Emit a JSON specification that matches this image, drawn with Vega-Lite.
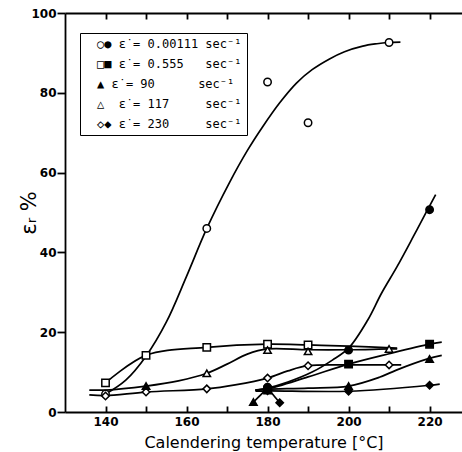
{
  "$schema": "https://vega.github.io/schema/vega-lite/v6.json",
  "width": 397,
  "height": 399,
  "autosize": {"type": "none"},
  "padding": {"left": 65, "top": 13, "right": 0, "bottom": 40},
  "background": "white",
  "config": {
    "view": {"stroke": null},
    "font": "DejaVu Sans",
    "axis": {"domainColor": "black", "tickColor": "black", "labelColor": "black", "titleColor": "black", "domainWidth": 1.8, "tickWidth": 1.8, "grid": false, "labelFont": "DejaVu Sans", "labelFontWeight": "bold", "labelFontSize": 12, "titleFont": "DejaVu Sans", "titleFontWeight": "normal"}
  },
  "datasets": {
    "curves": [
      {"c": "o1", "x": 140, "y": 4.5}, {"c": "o1", "x": 145, "y": 8}, {"c": "o1", "x": 150, "y": 14}, {"c": "o1", "x": 155, "y": 22.5}, {"c": "o1", "x": 160, "y": 34}, {"c": "o1", "x": 165, "y": 46}, {"c": "o1", "x": 170.6, "y": 57.5}, {"c": "o1", "x": 175, "y": 65.5}, {"c": "o1", "x": 178.8, "y": 71.5}, {"c": "o1", "x": 183, "y": 77.5}, {"c": "o1", "x": 187.2, "y": 82.5}, {"c": "o1", "x": 191, "y": 85.8}, {"c": "o1", "x": 195.3, "y": 88.5}, {"c": "o1", "x": 199, "y": 90.3}, {"c": "o1", "x": 203.5, "y": 91.7}, {"c": "o1", "x": 207, "y": 92.3}, {"c": "o1", "x": 209.6, "y": 92.6}, {"c": "o1", "x": 212.8, "y": 92.7},
      {"c": "f1", "x": 177, "y": 5.5}, {"c": "f1", "x": 180, "y": 6}, {"c": "f1", "x": 185, "y": 7.5}, {"c": "f1", "x": 191, "y": 10}, {"c": "f1", "x": 196, "y": 13}, {"c": "f1", "x": 200, "y": 16}, {"c": "f1", "x": 204.7, "y": 23}, {"c": "f1", "x": 208.1, "y": 29.7}, {"c": "f1", "x": 212, "y": 36.5}, {"c": "f1", "x": 216, "y": 44}, {"c": "f1", "x": 219.5, "y": 50.7}, {"c": "f1", "x": 221.5, "y": 54.5},
      {"c": "so", "x": 140, "y": 7.3}, {"c": "so", "x": 150, "y": 14.2}, {"c": "so", "x": 165, "y": 16.2}, {"c": "so", "x": 180, "y": 17}, {"c": "so", "x": 190, "y": 16.8}, {"c": "so", "x": 200, "y": 16.5}, {"c": "so", "x": 212, "y": 16},
      {"c": "to", "x": 136, "y": 5.5}, {"c": "to", "x": 140, "y": 5.5}, {"c": "to", "x": 150, "y": 6.5}, {"c": "to", "x": 158, "y": 7.8}, {"c": "to", "x": 165, "y": 9.7}, {"c": "to", "x": 170, "y": 12}, {"c": "to", "x": 175, "y": 14.5}, {"c": "to", "x": 180, "y": 15.8}, {"c": "to", "x": 190, "y": 15.6}, {"c": "to", "x": 200, "y": 15.6}, {"c": "to", "x": 210, "y": 15.8}, {"c": "to", "x": 212, "y": 15.8},
      {"c": "sf", "x": 177, "y": 5.5}, {"c": "sf", "x": 180, "y": 5.8}, {"c": "sf", "x": 190, "y": 8.8}, {"c": "sf", "x": 200, "y": 12}, {"c": "sf", "x": 210, "y": 14.6}, {"c": "sf", "x": 220, "y": 17}, {"c": "sf", "x": 223, "y": 17.5},
      {"c": "tf", "x": 177, "y": 5.5}, {"c": "tf", "x": 180, "y": 5.7}, {"c": "tf", "x": 190, "y": 6}, {"c": "tf", "x": 200, "y": 6.5}, {"c": "tf", "x": 207.6, "y": 8.7}, {"c": "tf", "x": 211.8, "y": 10.5}, {"c": "tf", "x": 219.5, "y": 13.3}, {"c": "tf", "x": 223, "y": 14.2},
      {"c": "df", "x": 177, "y": 5.2}, {"c": "df", "x": 180, "y": 5.3}, {"c": "df", "x": 200, "y": 5.2}, {"c": "df", "x": 220, "y": 6.7}, {"c": "df", "x": 222.5, "y": 7},
      {"c": "do", "x": 136, "y": 4.3}, {"c": "do", "x": 140, "y": 4.1}, {"c": "do", "x": 150, "y": 5}, {"c": "do", "x": 165, "y": 5.8}, {"c": "do", "x": 172, "y": 6.8}, {"c": "do", "x": 180, "y": 8.5}, {"c": "do", "x": 185, "y": 10.3}, {"c": "do", "x": 190, "y": 11.6}, {"c": "do", "x": 200, "y": 11.8}, {"c": "do", "x": 210, "y": 11.8}, {"c": "do", "x": 213, "y": 11.8},
      {"c": "x1", "x": 176.5, "y": 2.5}, {"c": "x1", "x": 180, "y": 6},
      {"c": "x2", "x": 180, "y": 6}, {"c": "x2", "x": 183, "y": 2.3}
    ],
    "points": [
      {"s": "0.00111", "f": "open", "x": 140, "y": 4.5}, {"s": "0.00111", "f": "open", "x": 165, "y": 46}, {"s": "0.00111", "f": "open", "x": 180, "y": 82.7}, {"s": "0.00111", "f": "open", "x": 190, "y": 72.5}, {"s": "0.00111", "f": "open", "x": 210, "y": 92.6},
      {"s": "0.555", "f": "open", "x": 140, "y": 7.3}, {"s": "0.555", "f": "open", "x": 150, "y": 14.2}, {"s": "0.555", "f": "open", "x": 165, "y": 16.2}, {"s": "0.555", "f": "open", "x": 180, "y": 17}, {"s": "0.555", "f": "open", "x": 190, "y": 16.8},
      {"s": "117", "f": "open", "x": 165, "y": 9.7}, {"s": "117", "f": "open", "x": 180, "y": 15.5}, {"s": "117", "f": "open", "x": 190, "y": 15.2}, {"s": "117", "f": "open", "x": 210, "y": 15.8},
      {"s": "230", "f": "open", "x": 140, "y": 4}, {"s": "230", "f": "open", "x": 150, "y": 5}, {"s": "230", "f": "open", "x": 165, "y": 5.8}, {"s": "230", "f": "open", "x": 180, "y": 8.5}, {"s": "230", "f": "open", "x": 190, "y": 11.6}, {"s": "230", "f": "open", "x": 210, "y": 11.8},
      {"s": "0.00111", "f": "filled", "x": 180, "y": 6.2}, {"s": "0.00111", "f": "filled", "x": 200, "y": 15.5}, {"s": "0.00111", "f": "filled", "x": 220, "y": 50.7},
      {"s": "0.555", "f": "filled", "x": 180, "y": 5.5}, {"s": "0.555", "f": "filled", "x": 200, "y": 12}, {"s": "0.555", "f": "filled", "x": 220, "y": 17},
      {"s": "90", "f": "filled", "x": 150, "y": 6.5}, {"s": "90", "f": "filled", "x": 176.5, "y": 2.5}, {"s": "90", "f": "filled", "x": 180, "y": 5.8}, {"s": "90", "f": "filled", "x": 200, "y": 6.5}, {"s": "90", "f": "filled", "x": 220, "y": 13.3},
      {"s": "230", "f": "filled", "x": 183, "y": 2.3}, {"s": "230", "f": "filled", "x": 180, "y": 5.3}, {"s": "230", "f": "filled", "x": 200, "y": 5.2}, {"s": "230", "f": "filled", "x": 220, "y": 6.7}
    ]
  },
  "resolve": {"axis": {"x": "independent"}},
  "layer": [
    {
      "data": {"name": "curves"},
      "mark": {"type": "line", "interpolate": "catmull-rom", "color": "black", "strokeWidth": 1.7},
      "encoding": {
        "x": {"field": "x", "type": "quantitative", "scale": {"domain": [130, 228], "nice": false, "zero": false},
          "axis": {"orient": "bottom", "values": [140, 150, 160, 170, 180, 190, 200, 210, 220], "labelExpr": "datum.value % 20 === 0 ? datum.label : ''", "tickSize": -6, "labelPadding": 10, "title": "Calendering temperature [°C]", "titleFontSize": 16, "titlePadding": 7}},
        "y": {"field": "y", "type": "quantitative", "scale": {"domain": [0, 100], "nice": false},
          "axis": {"values": [0, 10, 20, 30, 40, 50, 60, 70, 80, 90, 100], "labelExpr": "datum.value % 20 === 0 ? datum.label : ''", "tickSize": {"condition": {"test": "datum.value % 20 === 0", "value": 8}, "value": -4}, "labelPadding": 1, "title": "εᵣ %", "titleFontSize": 21, "titlePadding": -9}},
        "detail": {"field": "c"},
        "order": {"field": "x"}
      }
    },
    {
      "data": {"name": "points"},
      "mark": {"type": "point", "filled": true, "stroke": "black", "strokeWidth": 1.5, "opacity": 1},
      "encoding": {
        "x": {"field": "x", "type": "quantitative", "axis": {"orient": "top", "values": [140, 150, 160, 170, 180, 190, 200, 210, 220], "labels": false, "tickSize": -6, "title": null}},
        "y": {"field": "y", "type": "quantitative"},
        "fill": {"field": "f", "type": "nominal", "scale": {"domain": ["open", "filled"], "range": ["white", "black"]}, "legend": null},
        "size": {"value": 55},
        "shape": {"field": "s", "type": "nominal",
          "scale": {"domain": ["0.00111", "0.555", "90", "117", "230"], "range": ["circle", "square", "triangle-up", "triangle-up", "diamond"]},
          "legend": {"orient": "none", "legendX": 15, "legendY": 20, "title": null, "strokeColor": "black", "padding": 5, "symbolSize": 0, "symbolOpacity": 0, "symbolStrokeWidth": 0, "labelOffset": 0, "rowPadding": 8, "labelFont": "DejaVu Sans Mono", "labelFontSize": 12, "labelColor": "black", "labelLimit": 300,
            "labelExpr": "datum.value === '0.00111' ? '○● ε̇\u00a0=\u00a00.00111\u00a0sec⁻¹' : datum.value === '0.555' ? '□■ ε̇\u00a0=\u00a00.555\u00a0\u00a0\u00a0sec⁻¹' : datum.value === '90' ? '\u00a0▲ ε̇\u00a0=\u00a090\u00a0\u00a0\u00a0\u00a0\u00a0\u00a0sec⁻¹' : datum.value === '117' ? '△\u00a0\u00a0ε̇\u00a0=\u00a0117\u00a0\u00a0\u00a0\u00a0\u00a0sec⁻¹' : '◇◆ ε̇\u00a0=\u00a0230\u00a0\u00a0\u00a0\u00a0\u00a0sec⁻¹'"}
        }
      }
    }
  ]
}
